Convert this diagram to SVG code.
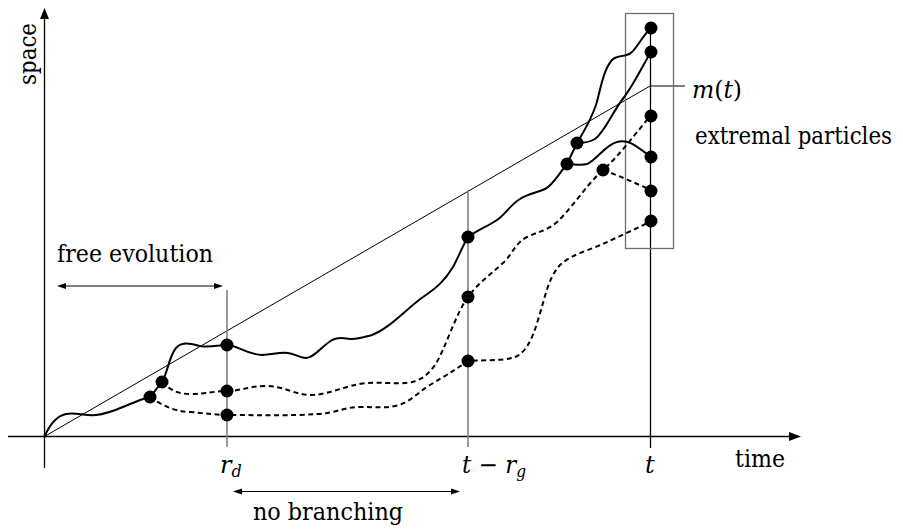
<svg xmlns="http://www.w3.org/2000/svg" width="903" height="529" viewBox="0 0 903 529">
<style>
text{font-family:'DejaVu Serif',serif;font-size:24px;fill:#000}
.it{font-style:italic}
.sub{font-style:italic;font-size:16px}
.axis{stroke:#000;stroke-width:1.3;fill:none}
.thin{stroke:#000;stroke-width:1;fill:none}
.gray{stroke:#808080;stroke-width:1.6;fill:none}
.solid{stroke:#000;stroke-width:2;fill:none;stroke-linecap:round}
.dash{stroke:#000;stroke-width:2;fill:none;stroke-dasharray:5 3.5}
.dot{fill:#000}
</style>
<rect width="903" height="529" fill="#fff"/>
<g id="axes">
<line class="axis" x1="44.5" y1="468" x2="44.5" y2="18"/>
<polygon points="44.5,8 40,19 49,19" fill="#000"/>
<line class="axis" x1="8" y1="436.5" x2="790" y2="436.5"/>
<polygon points="801,436.5 789,432 789,441" fill="#000"/>
<text transform="translate(36,54) rotate(-90)" text-anchor="middle" textLength="62" lengthAdjust="spacingAndGlyphs">space</text>
<text x="735" y="467" textLength="50" lengthAdjust="spacingAndGlyphs">time</text>
</g>
<g id="guides">
<line class="thin" x1="44.5" y1="436.5" x2="650" y2="86"/>
<line class="thin" x1="650" y1="86" x2="685" y2="86"/>
<line class="gray" x1="227" y1="290" x2="227" y2="447"/>
<line class="gray" x1="468" y1="190" x2="468" y2="447"/>
<line class="axis" x1="650.5" y1="28" x2="650.5" y2="448"/>
<rect x="625.5" y="13.5" width="48" height="235" fill="none" stroke="#6e6e6e" stroke-width="1.3"/>
</g>
<g id="connectors">
<path class="solid" d="M44.5,436.5 C50,424 56,416 66,414 C76,412 84,416 96,415 C108,414 118,409 130,404 C138,401 144,398 150,397 L162,382 C167,375 169,356 176,348 C182,341 192,344 200,346 C210,348 218,345 227,345 C237,345 248,355 262,355 C272,355 278,352 288,353 C296,354 300,358 306,358 C314,358 322,346 332,340 C340,336 346,339 352,339 C360,339 364,337 372,335 C390,328 405,310 423,297 C438,287 445,280 453,267 C458,258 463,245 468,237 C478,230 488,226 497,220 C506,214 510,205 520,199 C528,194 536,193 545,189 C552,186 558,175 567,164 L577,143"/>
<path class="solid" d="M567,164 C575,164 580,166 587,164 C597,160 605,145 617,142 C628,139 635,145 651,157"/>
<path class="solid" d="M577,143 C585,143 590,142 595,139 C605,132 612,112 625,96 C635,82 643,65 651,52"/>
<path class="solid" d="M577,143 C583,133 591,120 596,105 C600,92 603,70 612,60 C618,54 626,58 632,52 C638,46 644,34 651,28"/>
<path class="dash" d="M162,382 C170,390 178,394 190,394 C205,394 215,391 227,391 C240,391 250,386 265,386 C285,386 295,395 310,395 C330,395 345,385 367,383 C380,382 395,384 405,383 C420,382 428,375 435,365 C445,350 455,315 468,297 C478,283 490,275 503,263 C512,255 515,243 527,237 C537,232 547,231 557,222 C572,208 588,183 603,170 C618,157 636,133 651,115"/>
<path class="dash" d="M603,170 C620,176 635,183 651,190"/>
<path class="dash" d="M150,397 C162,405 172,411 190,412 C205,413 215,415 227,415 C255,415 290,416 318,414 C335,413 345,407 360,407 C375,407 385,408 395,406 C410,403 418,392 430,385 C445,376 455,370 468,361 C480,360 500,361 512,358 C525,355 532,340 538,320 C545,298 548,278 560,265 C572,254 590,250 605,243 C620,236 638,228 651,221"/>
</g>
<g id="nodes">
<g id="n1"><circle class="dot" cx="150" cy="397" r="6.5"/></g>
<g id="n2"><circle class="dot" cx="162" cy="382" r="6.5"/></g>
<g id="n3"><circle class="dot" cx="227" cy="345" r="6.5"/></g>
<g id="n4"><circle class="dot" cx="227" cy="391" r="6.5"/></g>
<g id="n5"><circle class="dot" cx="227" cy="415" r="6.5"/></g>
<g id="n6"><circle class="dot" cx="468" cy="237" r="6.5"/></g>
<g id="n7"><circle class="dot" cx="468" cy="297" r="6.5"/></g>
<g id="n8"><circle class="dot" cx="468" cy="361" r="6.5"/></g>
<g id="n9"><circle class="dot" cx="567" cy="164" r="6.5"/></g>
<g id="n10"><circle class="dot" cx="577" cy="143" r="6.5"/></g>
<g id="n11"><circle class="dot" cx="603" cy="170" r="6.5"/></g>
<g id="n12"><circle class="dot" cx="651" cy="28" r="6.5"/></g>
<g id="n13"><circle class="dot" cx="651" cy="52" r="6.5"/></g>
<g id="n14"><circle class="dot" cx="651" cy="116" r="6.5"/></g>
<g id="n15"><circle class="dot" cx="651" cy="157" r="6.5"/></g>
<g id="n16"><circle class="dot" cx="651" cy="191" r="6.5"/></g>
<g id="n17"><circle class="dot" cx="651" cy="221" r="6.5"/></g>
</g>
<g id="labels">
<text x="692" y="98" textLength="50" lengthAdjust="spacingAndGlyphs"><tspan class="it">m</tspan>(<tspan class="it">t</tspan>)</text>
<text x="695" y="144" font-size="20" textLength="197" lengthAdjust="spacingAndGlyphs">extremal particles</text>
<text x="57" y="262" textLength="156" lengthAdjust="spacingAndGlyphs">free evolution</text>
<line class="thin" x1="64" y1="286" x2="216" y2="286"/>
<polygon points="57,286 66,283 66,289" fill="#000"/>
<polygon points="223,286 214,283 214,289" fill="#000"/>
<text x="220" y="473"><tspan class="it">r</tspan><tspan class="sub" dy="4">d</tspan></text>
<text x="462" y="473" textLength="64" lengthAdjust="spacingAndGlyphs"><tspan class="it">t</tspan> − <tspan class="it">r</tspan><tspan class="sub" dy="4">g</tspan></text>
<text class="it" x="645" y="473">t</text>
<line class="thin" x1="240" y1="491.5" x2="453" y2="491.5"/>
<polygon points="233,491.5 242,488.5 242,494.5" fill="#000"/>
<polygon points="460,491.5 451,488.5 451,494.5" fill="#000"/>
<text x="253" y="520" textLength="150" lengthAdjust="spacingAndGlyphs">no branching</text>
</g>
</svg>
